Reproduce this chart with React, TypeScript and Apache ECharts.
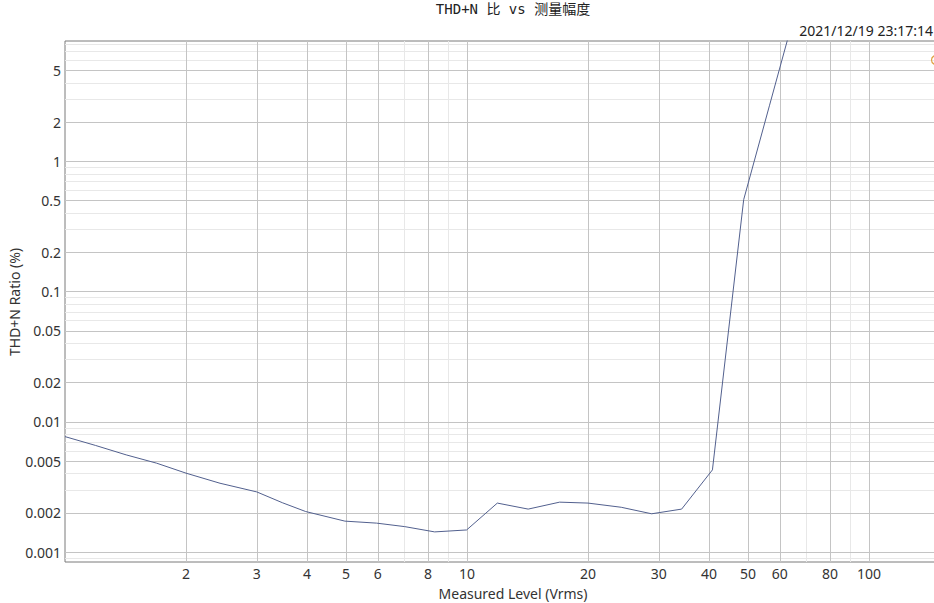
import React, { useEffect, useRef } from "react";
import * as echarts from "echarts";

// Measured level (Vrms) and THD+N ratio (%)
const levelVrms = [1.0, 1.19, 1.42, 1.69, 2.0, 2.43, 3.0, 3.48, 3.97, 4.97, 5.96, 7.0, 8.31, 9.98, 11.9, 14.2, 17.0, 20.0, 24.2, 28.8, 34.2, 40.8, 48.8, 56.6, 67.3];
const thdRatio = [0.00771, 0.0066, 0.00558, 0.00482, 0.00404, 0.00338, 0.0029, 0.00239, 0.00205, 0.00173, 0.00167, 0.00157, 0.00143, 0.00148, 0.00238, 0.00214, 0.00242, 0.00238, 0.00221, 0.00197, 0.00214, 0.00428, 0.509, 2.7, 19];

// Tick labels / grid lines
const xMajorTicks = [2, 3, 4, 5, 6, 8, 10, 20, 30, 40, 50, 60, 80, 100];
const xMinorTicks = [7, 9, 70, 90];
const yMajorTicks = [0.001, 0.002, 0.005, 0.01, 0.02, 0.05, 0.1, 0.2, 0.5, 1, 2, 5];
const yMinorTicks = [
  0.0009,
  0.003, 0.004, 0.006, 0.007, 0.008, 0.009,
  0.03, 0.04, 0.06, 0.07, 0.08, 0.09,
  0.3, 0.4, 0.6, 0.7, 0.8, 0.9,
  3, 4, 6, 7, 8,
];

const titleText = "THD+N 比 vs 测量幅度";
const timestampText = "2021/12/19 23:17:14";
const xName = "Measured Level (Vrms)";
const yName = "THD+N Ratio (%)";

const fmt = (v: number) => String(Number(Number(v).toPrecision(6)));

export default function App() {
  const ref = useRef<HTMLDivElement>(null);
  useEffect(() => {
    if (!ref.current) return;
    const chart = echarts.init(ref.current, null, { renderer: "svg" });
    const font = "'Noto Sans', 'Open Sans', sans-serif";
    const xMin = 1, xMax = 146, yMin = 0.00084, yMax = 8.4;
    chart.setOption({
      animation: false,
      backgroundColor: "#ffffff",
      grid: {
        left: 65,
        top: 41,
        width: 870,
        height: 521,
        show: true,
        borderColor: "#7a7a7a",
        borderWidth: 1,
        backgroundColor: "transparent",
        containLabel: false,
        outerBoundsMode: "none",
      },
      xAxis: [
        {
          type: "log",
          logBase: 10,
          position: "bottom",
          min: xMin,
          max: xMax,
          axisLine: { show: false },
          axisTick: { show: false, customValues: xMinorTicks },
          axisLabel: { show: false },
          splitLine: { show: true, lineStyle: { color: "#e8e8e8", width: 1 } },
          z: 0,
        },
        {
          type: "log",
          logBase: 10,
          position: "bottom",
          min: xMin,
          max: xMax,
          axisLine: { show: false },
          axisTick: { show: false, customValues: xMajorTicks },
          axisLabel: {
            show: true,
            customValues: xMajorTicks,
            formatter: fmt,
            color: "#333333",
            fontSize: 14,
            fontFamily: font,
            margin: 4,
          },
          splitLine: { show: true, lineStyle: { color: "#c4c4c4", width: 1 } },
          z: 1,
        },
      ],
      yAxis: [
        {
          type: "log",
          logBase: 10,
          position: "left",
          min: yMin,
          max: yMax,
          axisLine: { show: false },
          axisTick: { show: false, customValues: yMinorTicks },
          axisLabel: { show: false },
          splitLine: { show: true, lineStyle: { color: "#e8e8e8", width: 1 } },
          z: 0,
        },
        {
          type: "log",
          logBase: 10,
          position: "left",
          min: yMin,
          max: yMax,
          axisLine: { show: false },
          axisTick: { show: false, customValues: yMajorTicks },
          axisLabel: {
            show: true,
            customValues: yMajorTicks,
            formatter: fmt,
            color: "#333333",
            fontSize: 14,
            fontFamily: font,
            margin: 4,
          },
          splitLine: { show: true, lineStyle: { color: "#c4c4c4", width: 1 } },
          z: 1,
        },
      ],
      series: [
        {
          type: "line",
          xAxisIndex: 1,
          yAxisIndex: 1,
          data: levelVrms.map((x, i) => [x, thdRatio[i]]),
          showSymbol: false,
          symbol: "none",
          clip: true,
          lineStyle: { color: "#52608e", width: 1 },
          z: 5,
        },
      ],
      graphic: [
        {
          type: "text",
          x: 513,
          y: 9,
          style: {
            text: titleText,
            fill: "#222222",
            font: "14px 'DejaVu Sans Mono', 'Noto Sans CJK SC', monospace",
            textAlign: "center",
            textVerticalAlign: "middle",
          },
        },
        {
          type: "text",
          x: 933,
          y: 30,
          style: {
            text: timestampText,
            fill: "#222222",
            font: "14px 'Noto Sans', sans-serif",
            textAlign: "right",
            textVerticalAlign: "middle",
          },
        },
        {
          type: "text",
          x: 513,
          y: 593,
          style: {
            text: xName,
            fill: "#333333",
            font: "14px 'Noto Sans', sans-serif",
            textAlign: "center",
            textVerticalAlign: "middle",
          },
        },
        {
          type: "text",
          x: 14,
          y: 302,
          rotation: Math.PI / 2,
          style: {
            text: yName,
            fill: "#333333",
            font: "14px 'Noto Sans', sans-serif",
            textAlign: "center",
            textVerticalAlign: "middle",
          },
        },
        {
          type: "circle",
          shape: { cx: 936, cy: 60, r: 4.5 },
          style: { fill: "none", stroke: "#e0a040", lineWidth: 1.2 },
          z: 10,
        },
      ],
    });
    return () => chart.dispose();
  }, []);
  return (
    <div
      ref={ref}
      style={{ position: "fixed", left: 0, top: 0, width: 934, height: 603 }}
    />
  );
}
